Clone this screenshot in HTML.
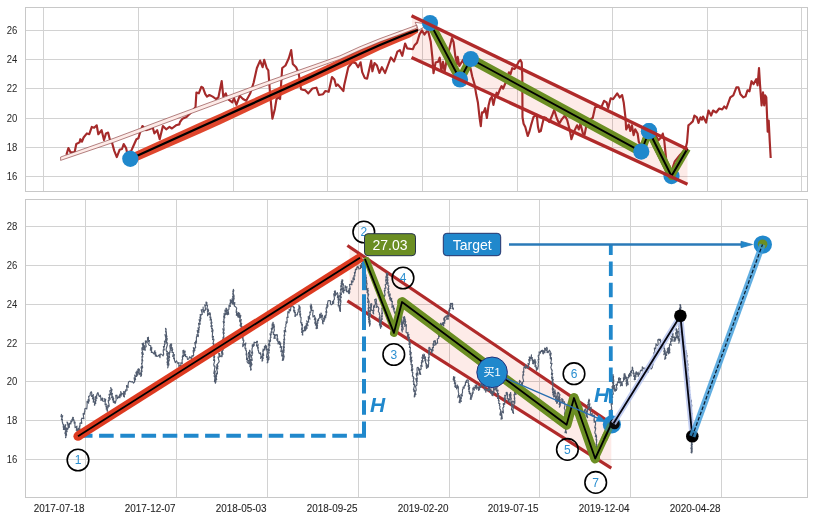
<!DOCTYPE html>
<html><head><meta charset="utf-8"><title>chart</title>
<style>html,body{margin:0;padding:0;background:#fff;}svg{display:block;}</style>
</head><body>
<svg width="813" height="520" viewBox="0 0 813 520">
<rect x="0" y="0" width="813" height="520" fill="#ffffff"/>
<g stroke="#d2d2d2" stroke-width="1" fill="none" shape-rendering="crispEdges">
<line x1="43.50" y1="7.5" x2="43.50" y2="191.5"/>
<line x1="138.50" y1="7.5" x2="138.50" y2="191.5"/>
<line x1="233.50" y1="7.5" x2="233.50" y2="191.5"/>
<line x1="327.50" y1="7.5" x2="327.50" y2="191.5"/>
<line x1="422.50" y1="7.5" x2="422.50" y2="191.5"/>
<line x1="517.50" y1="7.5" x2="517.50" y2="191.5"/>
<line x1="612.50" y1="7.5" x2="612.50" y2="191.5"/>
<line x1="707.50" y1="7.5" x2="707.50" y2="191.5"/>
<line x1="801.50" y1="7.5" x2="801.50" y2="191.5"/>
<line x1="25.5" y1="30.50" x2="807.5" y2="30.50"/>
<line x1="25.5" y1="59.50" x2="807.5" y2="59.50"/>
<line x1="25.5" y1="88.50" x2="807.5" y2="88.50"/>
<line x1="25.5" y1="118.50" x2="807.5" y2="118.50"/>
<line x1="25.5" y1="147.50" x2="807.5" y2="147.50"/>
<line x1="25.5" y1="176.50" x2="807.5" y2="176.50"/>
<line x1="85.50" y1="199.5" x2="85.50" y2="497.5"/>
<line x1="176.50" y1="199.5" x2="176.50" y2="497.5"/>
<line x1="267.50" y1="199.5" x2="267.50" y2="497.5"/>
<line x1="358.50" y1="199.5" x2="358.50" y2="497.5"/>
<line x1="449.50" y1="199.5" x2="449.50" y2="497.5"/>
<line x1="539.50" y1="199.5" x2="539.50" y2="497.5"/>
<line x1="630.50" y1="199.5" x2="630.50" y2="497.5"/>
<line x1="721.50" y1="199.5" x2="721.50" y2="497.5"/>
<line x1="25.5" y1="226.50" x2="807.5" y2="226.50"/>
<line x1="25.5" y1="265.50" x2="807.5" y2="265.50"/>
<line x1="25.5" y1="304.50" x2="807.5" y2="304.50"/>
<line x1="25.5" y1="343.50" x2="807.5" y2="343.50"/>
<line x1="25.5" y1="381.50" x2="807.5" y2="381.50"/>
<line x1="25.5" y1="420.50" x2="807.5" y2="420.50"/>
<line x1="25.5" y1="459.50" x2="807.5" y2="459.50"/>
<rect x="25.5" y="7.5" width="782.0" height="184.0" stroke="#c8c8c8"/>
<rect x="25.5" y="199.5" width="782.0" height="298.0" stroke="#c8c8c8"/>
</g>
<g font-family="Liberation Sans, Arial, sans-serif" fill="#262626" text-anchor="end">
<text transform="translate(17.30,33.90) scale(0.89,1)" font-size="10.7px" >26</text>
<text transform="translate(17.30,62.90) scale(0.89,1)" font-size="10.7px" >24</text>
<text transform="translate(17.30,91.90) scale(0.89,1)" font-size="10.7px" >22</text>
<text transform="translate(17.30,121.90) scale(0.89,1)" font-size="10.7px" >20</text>
<text transform="translate(17.30,150.90) scale(0.89,1)" font-size="10.7px" >18</text>
<text transform="translate(17.30,179.90) scale(0.89,1)" font-size="10.7px" >16</text>
<text transform="translate(17.30,229.90) scale(0.89,1)" font-size="10.7px" >28</text>
<text transform="translate(17.30,268.90) scale(0.89,1)" font-size="10.7px" >26</text>
<text transform="translate(17.30,307.90) scale(0.89,1)" font-size="10.7px" >24</text>
<text transform="translate(17.30,346.90) scale(0.89,1)" font-size="10.7px" >22</text>
<text transform="translate(17.30,384.90) scale(0.89,1)" font-size="10.7px" >20</text>
<text transform="translate(17.30,423.90) scale(0.89,1)" font-size="10.7px" >18</text>
<text transform="translate(17.30,462.90) scale(0.89,1)" font-size="10.7px" >16</text>
<text transform="translate(84.50,511.50) scale(0.945,1)" font-size="10.5px" stroke="#262626" stroke-width="0.1">2017-07-18</text>
<text transform="translate(175.50,511.50) scale(0.945,1)" font-size="10.5px" stroke="#262626" stroke-width="0.1">2017-12-07</text>
<text transform="translate(266.50,511.50) scale(0.945,1)" font-size="10.5px" stroke="#262626" stroke-width="0.1">2018-05-03</text>
<text transform="translate(357.50,511.50) scale(0.945,1)" font-size="10.5px" stroke="#262626" stroke-width="0.1">2018-09-25</text>
<text transform="translate(448.50,511.50) scale(0.945,1)" font-size="10.5px" stroke="#262626" stroke-width="0.1">2019-02-20</text>
<text transform="translate(538.50,511.50) scale(0.945,1)" font-size="10.5px" stroke="#262626" stroke-width="0.1">2019-07-15</text>
<text transform="translate(629.50,511.50) scale(0.945,1)" font-size="10.5px" stroke="#262626" stroke-width="0.1">2019-12-04</text>
<text transform="translate(720.50,511.50) scale(0.945,1)" font-size="10.5px" stroke="#262626" stroke-width="0.1">2020-04-28</text>
</g>
<polygon points="412,16 687.5,149.2 687.5,184.3 412,57.5" fill="#e8442a" fill-opacity="0.105"/>
<polyline points="66.4,154.7 68.4,148.1 70.5,152.2 74.6,152.2 76.3,144.0 79.5,142.4 80.3,139.2 82.0,141.6 83.6,137.5 86.9,133.4 89.3,134.2 91.8,126.9 94.2,127.7 96.7,125.3 98.3,134.2 101.6,130.2 104.0,140.0 106.0,133.4 108.1,132.6 109.8,139.2 112.2,143.2 114.2,150.6 116.8,157.1 119.6,149.8 122.0,149.0 123.7,144.0 126.1,148.1 127.0,152.2 131.0,151.4 133.5,145.7 136.4,139.2 138.4,138.3 140.0,132.6 142.5,126.0 145.8,130.2 149.0,129.3 152.8,127.7 154.4,133.4 157.2,130.2 159.7,139.2 162.9,126.0 166.2,129.3 169.5,126.9 171.9,128.5 176.0,125.3 179.3,124.4 180.0,122.0 182.5,118.7 186.5,117.0 189.8,113.8 195.5,107.2 196.4,92.5 198.8,93.3 201.3,86.8 202.9,87.6 205.3,94.2 207.0,96.6 209.4,95.0 212.7,96.6 216.0,99.0 218.4,97.4 221.7,81.0 223.3,96.6 225.8,93.3 226.6,95.8 229.0,99.9 232.3,102.3 234.0,98.2 236.4,104.8 239.7,95.8 243.0,99.0 246.2,100.7 250.3,93.3 253.6,82.7 256.9,68.0 260.1,60.6 262.6,67.2 264.2,59.8 266.7,68.0 268.3,70.4 270.0,92.5 272.4,118.7 274.9,108.9 276.5,99.0 278.9,97.4 280.1,99.0 282.2,68.0 285.5,65.5 288.8,58.2 291.2,50.0 292.8,63.9 296.1,67.2 298.6,72.9 301.0,89.2 303.5,90.0 305.0,90.1 308.3,93.4 312.4,88.5 316.4,87.7 318.9,95.0 323.0,94.2 325.4,91.0 328.7,91.8 332.0,77.0 334.4,79.5 336.1,86.0 337.7,84.4 343.4,91.0 344.2,85.2 348.3,67.2 352.4,62.3 355.7,63.1 358.1,67.2 360.6,62.3 362.2,72.1 364.7,77.9 367.1,78.7 371.2,60.7 372.4,71.3 374.5,63.1 377.0,65.6 379.4,73.0 381.9,67.2 385.1,73.0 388.4,64.0 390.9,57.4 394.1,61.5 397.4,51.7 399.9,50.1 402.3,55.8 405.1,43.5 407.2,48.4 412.9,49.2 414.6,45.2 417.0,42.7 419.5,34.5 421.9,30.4 424.4,34.5 426.8,31.3 428.3,31.5 430.7,41.4 432.4,57.7 433.5,73.2 435.6,62.6 438.1,61.8 439.7,57.7 441.4,70.8 443.0,61.8 444.6,71.6 447.1,57.7 449.5,47.9 452.0,38.1 453.6,42.2 455.3,56.1 456.9,64.2 457.7,56.9 459.3,65.9 463.0,60.0 466.0,70.0 469.2,69.2 470.5,68.2 472.2,76.3 474.6,84.5 476.2,94.3 477.9,102.5 479.5,117.2 480.8,126.2 482.0,112.3 483.6,112.3 485.2,108.2 486.9,118.0 488.5,105.8 490.1,99.2 491.8,96.8 493.4,104.9 495.0,97.6 496.7,92.7 497.8,95.1 499.9,89.4 501.6,86.1 503.2,88.6 504.8,84.5 507.3,79.6 508.9,72.3 510.6,73.9 512.2,68.2 514.6,69.0 516.3,66.5 518.7,61.6 520.4,60.0 521.7,62.5 522.3,76.3 522.5,117.2 523.6,123.7 525.3,127.0 527.7,136.0 529.3,131.9 531.0,125.4 533.4,117.2 536.7,114.7 538.0,127.0 539.2,131.9 540.8,131.1 542.4,123.7 544.1,117.2 546.1,118.0 549.3,122.0 551.8,116.3 554.2,109.8 556.7,118.0 559.2,123.7 561.6,119.6 564.9,115.5 567.3,120.4 569.8,130.2 571.4,139.2 573.9,131.9 577.1,125.3 578.8,129.4 580.4,123.7 582.9,133.5 584.5,135.1 586.1,127.0 587.8,120.4 592.7,118.0 595.1,107.3 598.4,106.5 600.9,108.1 604.1,100.8 606.6,102.4 608.2,108.1 610.7,98.3 613.1,99.2 617.2,93.4 619.7,97.5 622.1,95.1 623.7,102.4 625.4,117.1 626.2,129.4 628.7,124.5 630.3,131.0 631.9,125.3 633.6,135.1 635.2,129.4 637.6,133.5 638.8,141.8 641.0,146.0 644.0,138.0 647.0,142.0 650.0,134.0 653.0,139.0 656.0,136.0 658.4,140.2 660.9,137.7 662.8,133.6 664.2,140.2 665.8,155.7 667.4,170.4 669.0,176.0 671.0,178.0 673.1,166.3 674.8,161.4 680.0,155.0 685.4,149.2 687.0,142.6 688.4,125.4 690.3,123.8 692.8,121.4 694.4,115.6 696.9,117.3 698.5,123.0 700.5,117.3 702.0,119.6 703.0,116.6 706.1,122.6 708.5,110.5 711.1,115.6 713.1,110.5 716.2,112.5 719.2,108.5 722.2,109.5 724.2,106.5 726.3,108.5 730.3,97.4 733.3,95.4 736.4,87.3 738.4,87.3 740.4,94.3 743.4,97.4 745.5,96.4 747.5,90.3 749.5,91.3 751.5,81.2 753.5,84.2 756.2,79.2 757.6,85.3 759.0,68.1 760.0,84.2 761.6,105.5 763.0,92.3 764.2,105.5 765.1,95.4 766.3,97.4 767.7,131.7 768.7,120.6 769.7,140.8 770.7,158.0" fill="none" stroke="#a52a2a" stroke-width="2.15" stroke-linejoin="round"/>
<polygon points="130.0,154.3 138.8,150.3 200.0,122.6 220.0,113.7 245.0,102.3 289.0,82.6 310.0,73.0 340.0,58.9 360.0,50.0 380.0,41.6 400.0,34.2 410.0,30.6 418.0,28.4 418.0,32.4 410.0,37.4 400.0,41.4 380.0,50.0 360.0,59.5 340.0,68.5 310.0,82.4 289.0,91.9 245.0,112.7 220.0,124.5 200.0,133.5 138.8,160.3 130.0,164.0" fill="#dd3a20" fill-opacity="0.94"/>
<polyline points="130.0,159.0 138.8,155.0 200.0,127.3 220.0,118.3 245.0,106.9 289.0,87.0 310.0,77.4 340.0,63.3 360.0,54.0 380.0,45.0 400.0,36.8 410.0,32.8 418.0,30.0" fill="none" stroke="#000" stroke-width="2.3" stroke-linejoin="round"/>
<polygon points="415.2,22.3 428.5,24.2 418.5,30.3" fill="#fff" stroke="#8a2a2a" stroke-width="0.6"/>
<polygon points="60.6,157.0 114.0,138.2 173.1,116.0 250.0,87.6 285.0,75.1 340.0,55.8 360.0,46.7 380.0,38.6 400.0,31.3 416.9,25.1 416.9,28.1 400.0,34.5 380.0,41.8 360.0,50.1 340.0,59.2 285.0,78.7 250.0,91.6 173.1,120.2 114.0,142.2 60.6,160.4" fill="#fdebe8" stroke="#803030" stroke-width="0.6" stroke-linejoin="round"/>
<polyline points="430.0,23.0 460.0,79.5 470.8,59.0" fill="none" stroke="#6b8e23" stroke-width="8.8" stroke-linejoin="round" stroke-linecap="round"/>
<polyline points="470.8,59.0 641.3,151.6" fill="none" stroke="#6b8e23" stroke-width="9.8" stroke-linejoin="round" stroke-linecap="round"/>
<polyline points="641.3,151.6 649.0,131.2 671.5,176.1" fill="none" stroke="#6b8e23" stroke-width="7.6" stroke-linejoin="round" stroke-linecap="round"/>
<polyline points="430.0,23.0 460.0,79.5 470.8,59.0 641.3,151.6 649.0,131.2 671.5,176.1" fill="none" stroke="#000" stroke-width="1.8" stroke-linejoin="round"/>
<circle cx="130.3" cy="158.8" r="8.1" fill="#2088cc"/>
<circle cx="430" cy="23" r="8.1" fill="#2088cc"/>
<circle cx="460" cy="79.5" r="8.1" fill="#2088cc"/>
<circle cx="470.8" cy="59" r="8.1" fill="#2088cc"/>
<circle cx="641.3" cy="151.6" r="8.1" fill="#2088cc"/>
<circle cx="649" cy="131.2" r="8.1" fill="#2088cc"/>
<circle cx="671.5" cy="176.1" r="8.1" fill="#2088cc"/>
<polyline points="649.0,131.2 671.5,176.1" fill="none" stroke="#6b8e23" stroke-width="7.6" stroke-linecap="round"/>
<polyline points="671.5,176.1 687.4,148.8" fill="none" stroke="#6b8e23" stroke-width="7" stroke-linecap="butt"/>
<polyline points="649.0,131.2 671.5,176.1 687.4,148.8" fill="none" stroke="#000" stroke-width="2" stroke-linejoin="round"/>
<circle cx="649" cy="131.2" r="8.1" fill="#2088cc"/>
<line x1="411.5" y1="15.8" x2="687.5" y2="149.2" stroke="#b02a2a" stroke-width="3.3"/>
<line x1="411.5" y1="57.5" x2="687.5" y2="184.3" stroke="#b02a2a" stroke-width="3.3"/>
<polygon points="349.6,247 611.3,423.5 611.3,468 349.6,302.2" fill="#e8442a" fill-opacity="0.105"/>
<line x1="347.4" y1="245.5" x2="611.5" y2="423.6" stroke="#b02a2a" stroke-width="3.15"/>
<line x1="347.4" y1="300.8" x2="611.3" y2="468.2" stroke="#b02a2a" stroke-width="3.15"/>
<polyline points="61.6,414.0 61.0,416.5 61.4,416.9 62.7,415.7 61.4,419.7 62.4,419.3 62.2,421.8 62.7,422.9 62.7,424.0 63.5,424.5 63.2,426.9 64.0,426.6 63.4,429.4 63.8,429.5 63.3,427.1 64.6,428.0 64.9,426.3 64.9,425.0 65.8,424.7 64.6,429.6 66.0,427.9 65.9,429.6 64.9,433.4 66.1,431.5 65.4,435.1 66.5,433.9 65.5,437.7 66.0,437.2 65.4,433.8 66.6,435.1 65.9,431.1 67.1,431.7 66.5,428.0 67.6,429.4 67.9,429.1 68.1,427.3 68.1,425.7 67.0,422.0 67.8,422.9 67.8,425.3 69.1,423.9 68.7,427.6 69.4,427.3 69.3,425.1 69.8,423.2 70.9,424.0 70.8,420.9 71.6,422.0 72.0,421.2 71.9,419.3 72.6,419.0 72.7,417.3 73.4,417.6 72.9,420.2 73.7,419.5 74.1,420.6 74.2,423.2 75.1,422.1 74.9,425.0 75.1,427.7 77.0,426.2 76.3,430.4 77.1,429.5 77.9,429.1 76.9,433.5 77.2,434.4 78.2,433.9 78.1,431.4 79.4,433.5 78.2,428.1 79.8,430.9 79.9,428.8 79.4,426.0 80.1,426.1 79.9,423.2 80.4,422.9 81.8,423.4 81.3,419.6 82.0,418.1 82.6,418.4 83.9,418.8 83.1,413.6 84.5,414.1 84.3,412.0 84.8,411.8 84.8,408.9 85.4,408.3 86.8,409.0 87.0,406.5 87.1,405.2 87.1,404.1 87.0,401.2 88.6,403.2 88.1,399.5 89.3,401.1 88.6,396.4 89.3,396.3 90.2,395.2 90.2,393.5 90.5,392.7 91.1,391.8 91.5,391.9 91.8,393.9 91.6,396.5 92.4,396.2 93.5,394.7 92.4,398.9 94.0,397.1 93.7,398.5 93.2,402.2 93.9,401.7 94.9,401.7 94.4,405.1 94.8,405.2 94.8,403.8 95.8,403.5 94.9,399.1 96.2,400.8 95.4,396.5 96.9,398.5 96.4,395.2 97.0,395.3 97.0,394.1 97.9,392.5 99.1,396.3 100.0,396.6 100.3,395.2 100.8,397.5 101.0,400.4 102.4,398.1 103.0,398.4 102.5,400.7 103.3,401.2 104.7,401.2 104.7,398.5 104.7,400.6 105.7,399.3 105.2,402.2 105.1,404.7 106.4,404.0 105.9,406.9 106.8,406.6 106.2,409.2 107.0,408.4 107.3,409.3 107.0,410.7 107.6,411.2 107.1,407.5 108.1,407.8 107.8,405.2 109.1,406.4 109.1,404.9 108.3,401.6 108.3,400.3 109.2,400.7 108.7,397.5 110.2,399.2 109.0,394.2 109.6,394.1 110.5,394.9 110.7,394.4 109.7,390.7 110.5,390.7 111.1,390.0 110.7,387.5 111.3,388.8 112.0,389.5 110.9,394.0 111.2,394.9 112.4,393.3 111.6,397.8 112.5,396.3 113.0,396.9 112.4,400.0 113.7,398.2 113.2,402.0 113.6,402.4 114.7,401.2 114.3,403.0 115.5,403.2 115.7,401.4 116.2,400.0 115.9,397.2 115.7,395.3 116.9,395.2 117.5,398.7 119.3,395.7 119.1,397.4 120.0,397.7 119.8,394.2 121.2,396.1 120.7,391.6 121.3,393.0 121.4,394.5 123.2,393.1 123.5,396.3 124.5,396.9 123.6,391.6 125.2,394.2 124.9,391.4 125.8,391.6 125.7,389.7 127.1,390.3 126.5,385.5 128.2,387.4 128.0,385.3 128.5,382.0 129.8,381.2 131.3,382.0 132.4,381.5 133.5,383.1 134.1,382.4 134.7,381.8 134.1,377.8 135.6,379.8 134.7,375.1 135.7,376.4 136.7,376.4 135.9,372.2 137.5,375.2 136.8,371.1 138.1,373.0 137.8,369.2 138.9,370.4 138.6,368.7 139.4,369.5 139.0,373.7 139.1,374.7 140.5,372.8 140.8,374.7 140.8,376.4 141.4,375.6 141.6,374.3 141.2,372.0 141.1,370.6 142.1,371.6 141.0,367.0 142.1,368.7 141.6,366.3 142.7,367.3 141.5,363.3 142.3,363.2 142.0,361.0 141.8,359.6 142.8,360.9 142.1,358.3 141.9,356.5 142.8,356.9 141.7,352.5 143.3,354.4 142.1,350.4 141.9,348.8 141.9,347.8 143.2,350.0 142.5,347.1 143.5,347.6 142.1,343.5 143.0,344.6 142.8,343.3 143.8,343.1 143.0,347.8 144.7,345.7 144.0,349.1 144.5,349.9 145.3,350.2 144.9,347.1 145.6,347.1 146.2,346.7 145.4,342.2 145.4,340.8 147.3,342.8 147.0,340.8 147.4,340.0 147.7,339.6 147.4,337.7 148.4,337.2 148.5,338.2 148.4,341.5 149.5,340.5 148.6,344.6 149.4,345.4 150.1,345.5 150.9,345.9 150.3,350.3 151.8,347.6 151.3,352.4 152.3,352.1 153.8,353.8 154.5,351.8 154.5,351.0 155.1,350.8 154.4,354.2 155.8,352.6 155.3,356.1 156.6,355.0 156.7,356.5 157.8,356.3 159.1,354.8 160.0,357.6 160.2,354.1 161.5,354.2 163.1,355.8 163.7,354.1 163.3,352.1 163.2,349.7 164.3,350.0 163.4,346.5 164.5,346.9 164.4,344.3 165.1,344.1 164.4,341.1 165.2,342.1 165.5,340.8 165.8,340.4 165.5,339.1 166.3,339.8 165.0,334.6 166.3,336.0 166.5,334.7 166.3,332.1 165.5,328.3 166.2,329.2 165.5,332.0 166.1,332.1 166.1,333.6 166.5,334.2 165.7,337.2 167.0,336.2 166.0,339.8 167.3,338.6 166.6,341.3 166.3,343.1 167.2,342.6 167.3,343.3 167.3,345.0 166.1,349.1 166.2,350.5 166.6,351.4 167.4,351.3 166.7,354.2 167.5,353.4 166.9,355.5 167.8,355.4 167.0,359.2 168.0,358.7 167.0,362.7 168.3,361.1 167.3,364.2 167.4,365.0 168.4,364.2 167.7,367.9 168.1,366.7 167.6,363.2 168.9,365.1 168.8,363.7 168.2,360.5 169.0,361.1 169.3,359.9 168.4,356.6 169.3,357.6 169.7,357.3 168.3,352.7 169.6,354.2 169.3,352.4 170.0,352.5 170.0,350.7 170.4,350.1 169.8,345.8 170.4,344.6 171.6,345.8 171.1,343.5 170.7,346.0 171.7,344.7 170.9,348.6 172.2,347.5 171.6,350.6 172.7,349.1 172.0,352.4 172.8,352.4 173.6,352.7 172.7,356.4 174.4,354.7 173.6,358.7 174.4,357.9 174.4,360.1 175.3,362.6 176.5,360.8 177.2,362.3 177.9,363.6 179.0,362.5 178.8,366.5 179.9,365.6 181.0,365.6 180.8,362.8 182.3,363.6 182.1,361.2 182.2,359.2 182.7,359.1 182.3,356.9 182.6,355.7 183.5,356.6 183.0,352.7 182.9,350.5 183.9,350.2 183.7,352.8 185.2,351.2 184.4,355.6 185.6,354.5 185.5,356.5 186.1,356.8 187.0,356.5 187.5,359.5 188.7,359.0 189.7,356.7 191.7,359.2 191.8,355.9 192.1,356.8 192.7,355.6 193.4,355.9 193.7,355.0 193.1,350.5 194.2,352.0 193.3,347.5 194.9,350.5 194.3,348.0 195.1,348.2 195.7,347.4 194.7,342.6 196.0,343.7 195.5,341.0 196.5,342.4 196.5,341.3 196.4,339.5 196.4,337.1 197.0,336.1 196.9,334.6 198.2,336.6 198.4,335.7 197.2,330.5 197.7,330.7 198.9,332.4 198.0,327.9 199.2,329.9 198.7,328.1 199.4,327.8 198.5,323.2 199.9,324.4 200.3,324.1 199.1,319.6 200.6,321.0 199.8,317.0 201.0,318.8 200.1,314.5 200.9,315.9 201.0,314.3 201.6,314.7 202.4,314.3 201.2,309.8 202.2,309.7 203.3,310.2 203.1,307.1 203.2,308.5 203.0,311.9 204.2,310.4 204.2,312.6 204.3,310.2 205.1,310.5 205.6,309.3 204.7,304.9 205.3,306.0 206.2,305.1 206.0,302.1 206.9,302.6 206.8,305.1 207.6,305.5 206.9,308.7 207.2,309.8 208.2,309.0 207.4,312.0 208.6,310.3 207.5,314.0 207.6,315.7 208.2,314.8 208.4,313.3 209.6,314.5 209.7,312.6 210.1,312.9 210.4,314.2 209.9,317.8 210.9,317.1 210.1,320.1 211.4,319.1 211.3,321.4 210.9,323.4 211.9,322.3 210.9,326.6 212.2,325.7 211.5,328.6 212.5,328.5 211.7,331.7 213.1,330.0 212.6,332.5 212.4,335.0 212.3,337.3 213.5,336.4 212.5,339.7 213.7,339.0 213.9,339.8 212.9,343.7 213.5,343.3 213.8,344.0 212.8,347.3 213.5,348.0 214.3,347.6 214.0,349.9 213.0,353.3 214.1,352.0 213.1,355.6 214.6,354.0 213.7,357.6 214.7,356.7 213.5,360.5 214.4,359.4 214.7,360.6 213.7,364.9 214.0,365.3 214.1,366.2 215.0,366.1 214.4,370.1 213.8,373.4 215.3,371.1 214.2,375.8 214.4,376.9 215.1,376.5 214.7,379.4 214.4,381.8 215.9,380.6 215.3,383.3 215.6,382.3 216.0,381.8 215.3,378.2 216.7,379.7 215.5,375.1 216.6,376.7 216.4,374.5 216.3,373.2 217.4,374.0 217.4,372.0 216.5,368.6 216.4,367.0 217.9,368.9 216.7,364.9 217.9,366.7 217.4,364.3 217.9,363.4 218.5,362.7 219.2,361.7 218.0,357.1 218.4,357.1 219.3,357.0 218.7,353.3 219.7,353.5 219.9,356.8 221.8,355.5 221.9,356.8 222.2,355.9 221.9,354.1 221.4,351.6 223.0,354.3 222.2,350.3 222.6,349.6 223.2,350.1 222.3,346.6 223.0,346.8 222.5,343.9 223.2,343.7 223.4,342.8 223.0,341.3 222.5,339.2 223.5,339.6 223.0,337.2 223.9,337.6 223.8,335.6 223.0,332.1 224.2,333.4 222.8,328.9 224.1,330.4 224.0,328.5 223.6,326.0 224.1,325.3 223.2,321.3 224.4,322.6 223.7,319.4 224.1,319.2 223.7,316.1 224.8,317.8 224.0,313.6 225.1,315.1 225.3,313.6 224.9,310.0 226.3,311.0 225.9,308.2 226.7,308.2 226.0,311.5 227.4,309.9 226.1,314.5 227.7,312.6 227.4,314.8 227.8,314.5 228.7,314.2 228.0,310.0 228.8,309.8 229.0,308.2 229.0,305.3 230.4,306.5 229.9,303.1 230.7,303.3 230.2,299.8 231.2,300.4 231.6,302.9 232.4,302.5 232.5,303.7 233.3,304.6 232.7,302.4 232.0,298.9 233.2,301.0 232.7,298.8 233.2,299.0 232.6,296.6 233.3,296.2 232.7,293.5 233.4,294.1 233.0,291.3 233.5,290.7 233.4,289.4 232.8,291.9 233.8,290.3 233.1,293.4 233.4,294.3 233.9,295.0 234.1,296.4 233.5,299.0 234.2,298.1 233.5,300.9 233.5,302.6 233.7,303.5 234.9,302.5 234.3,306.0 234.8,306.3 235.8,307.0 236.7,308.2 236.3,310.4 236.2,312.5 236.9,311.6 236.3,315.3 237.6,313.3 237.2,315.6 238.1,314.7 237.8,317.0 238.7,317.2 238.5,312.5 239.6,313.7 239.9,313.9 239.3,317.8 240.8,315.5 239.6,320.8 239.9,321.9 241.3,319.5 240.7,322.5 240.1,325.8 241.7,323.2 240.9,326.9 242.1,326.4 241.4,329.1 242.1,329.8 241.6,332.5 242.2,332.5 241.9,335.4 243.1,334.7 242.3,338.1 243.0,337.4 243.1,338.2 242.8,340.3 243.7,340.0 243.8,340.8 242.8,344.5 242.7,346.6 243.6,345.7 244.2,344.2 245.4,345.2 245.1,343.5 245.9,343.0 244.9,347.7 245.2,348.9 245.9,348.1 245.8,350.6 246.4,350.5 246.5,351.5 246.1,354.9 246.9,353.8 246.9,354.9 246.7,356.8 246.5,359.5 247.7,358.2 247.1,361.7 247.5,362.6 248.4,363.4 249.1,363.9 248.5,360.5 249.3,360.9 249.4,359.1 248.4,356.0 249.3,356.2 248.5,353.4 248.6,352.3 249.5,353.1 249.6,352.1 249.5,350.2 250.1,350.8 250.1,351.8 249.0,355.6 250.3,354.2 250.1,356.7 249.6,359.9 250.6,359.6 249.7,363.1 250.5,363.0 249.8,366.6 250.2,366.9 250.7,367.7 250.6,370.1 251.3,369.8 250.4,365.9 250.3,364.7 251.4,366.0 250.4,362.1 252.0,364.7 250.5,360.0 250.8,359.6 252.0,360.4 252.3,360.3 251.3,355.8 251.6,355.6 252.3,355.2 251.5,352.1 252.7,353.1 252.0,350.2 252.0,348.6 252.4,348.0 252.2,344.9 253.3,346.5 253.2,344.1 254.2,345.6 254.1,342.1 254.6,342.4 256.1,342.5 256.8,341.3 257.5,341.3 256.5,345.2 256.9,346.3 258.2,344.6 257.5,348.1 258.3,347.4 258.0,350.2 258.4,350.2 258.8,352.6 259.3,353.6 260.6,352.8 260.6,354.6 261.1,354.9 260.6,358.5 262.1,356.4 262.4,357.9 262.1,360.1 262.1,361.2 262.7,360.5 262.4,357.6 263.2,358.4 262.4,353.8 263.7,355.4 262.7,350.8 263.4,351.2 263.0,349.0 263.9,350.2 264.5,350.0 264.4,346.3 265.7,348.2 265.4,345.1 266.1,345.7 265.7,347.7 266.6,346.5 266.1,349.9 267.1,349.2 267.0,351.2 267.4,351.1 266.8,354.8 266.6,357.4 267.5,356.5 267.1,360.0 267.9,359.8 267.2,362.9 267.9,362.3 267.7,360.3 268.2,360.3 267.6,357.5 268.9,359.6 268.7,358.3 269.1,357.8 267.8,352.9 268.5,352.9 269.2,352.9 268.1,349.1 269.4,350.3 268.8,348.1 269.2,347.6 268.4,343.8 269.9,345.7 269.4,343.5 268.9,340.1 270.3,341.7 270.6,340.5 270.2,337.8 271.0,337.5 270.0,333.9 271.2,334.8 271.0,331.9 272.1,332.4 271.7,330.3 271.3,328.3 272.5,329.2 272.1,325.5 272.2,323.9 273.5,325.7 272.9,322.3 273.2,322.5 272.8,325.5 274.0,324.3 273.2,327.8 274.4,326.0 274.1,328.8 274.4,330.0 273.2,333.9 273.7,334.7 274.8,334.3 274.0,338.4 274.5,338.0 275.2,338.5 274.6,334.3 276.0,335.7 276.1,334.7 277.1,334.5 277.5,335.8 276.8,340.1 277.8,338.7 277.7,341.4 278.3,341.3 278.0,344.0 279.7,341.4 279.4,344.5 280.7,342.9 280.5,345.7 280.1,347.7 281.3,346.6 281.8,346.9 280.8,351.6 282.2,350.7 282.0,352.4 281.7,355.9 283.0,355.1 283.1,356.4 282.3,360.5 283.8,357.9 283.4,360.1 283.1,358.6 282.7,356.0 282.9,354.9 284.2,357.0 283.3,353.3 282.9,350.7 284.1,352.2 283.1,349.0 284.2,350.4 283.3,346.4 284.4,347.6 283.6,343.8 284.3,344.5 283.5,341.7 284.5,342.9 283.7,339.2 284.7,339.9 284.5,338.7 284.0,335.1 284.9,335.5 284.2,331.3 284.2,330.3 285.8,331.9 285.0,327.7 285.5,327.3 285.9,326.6 285.8,324.0 286.4,323.7 286.0,321.8 287.1,322.6 287.1,320.2 286.9,317.2 288.1,317.5 287.7,315.2 287.9,311.6 289.1,313.0 289.2,309.3 290.5,310.9 290.6,309.6 290.8,307.5 291.8,306.0 293.3,306.3 293.4,307.6 294.4,307.3 293.5,311.1 294.8,310.3 294.3,312.8 295.4,312.3 294.9,316.4 295.5,316.3 295.8,314.7 297.3,314.9 297.5,312.8 297.7,313.0 298.3,311.6 298.2,309.2 299.2,309.0 298.9,305.3 299.5,306.3 298.8,308.9 300.1,306.9 300.0,309.5 299.8,311.0 299.6,312.4 300.4,311.2 299.6,315.0 300.7,313.8 300.2,316.8 300.5,317.1 301.1,317.2 301.0,319.6 300.7,322.4 301.2,323.3 301.9,322.7 301.4,325.1 302.5,324.4 302.4,325.7 301.5,329.4 302.5,327.9 301.6,332.4 303.2,330.6 302.2,334.8 302.8,335.1 302.4,332.1 302.8,330.5 303.2,330.3 304.2,330.9 304.7,330.3 304.3,327.3 305.6,325.8 305.3,330.6 306.1,329.5 305.7,326.5 307.1,328.3 306.2,323.6 308.0,325.7 306.7,320.8 307.6,321.8 308.7,322.2 308.5,320.3 308.2,316.6 309.9,319.2 309.3,315.8 309.8,315.2 310.2,314.4 309.7,312.0 310.7,312.3 310.9,311.4 311.0,309.9 310.7,308.3 310.2,305.7 311.0,305.7 311.7,306.3 311.0,304.1 311.4,305.3 310.7,308.7 311.9,307.3 311.3,310.5 312.4,310.2 313.2,310.4 312.7,314.1 313.0,317.0 314.5,315.5 314.9,317.4 314.3,319.8 315.6,318.0 315.8,319.2 314.7,323.1 316.0,321.3 315.4,325.1 316.5,323.8 316.5,325.9 316.1,328.7 316.5,328.4 317.6,328.2 316.4,324.2 317.6,326.0 316.9,323.0 317.9,323.1 317.4,319.9 318.5,320.6 318.7,318.5 319.7,317.9 319.6,314.2 321.0,315.8 320.9,313.0 321.3,313.4 320.7,317.7 322.5,315.2 321.9,319.5 322.6,320.1 322.5,323.1 323.1,324.0 322.8,320.9 324.1,321.4 323.6,318.1 324.7,319.8 324.4,316.1 325.8,317.8 325.3,315.2 326.0,315.8 326.3,313.9 325.8,311.5 326.8,312.3 326.1,308.7 326.5,307.0 327.3,307.9 326.9,304.6 328.0,306.2 327.5,304.1 328.0,300.8 329.2,300.5 330.4,300.8 330.4,303.7 331.3,304.8 332.6,304.1 332.3,301.4 333.7,303.3 333.6,300.2 334.3,299.6 334.4,298.2 333.7,293.8 335.3,295.8 334.3,291.2 335.3,290.9 335.5,293.4 336.0,294.8 337.3,292.6 337.9,294.2 337.4,297.7 338.8,295.9 338.0,300.0 339.3,299.0 338.1,302.8 339.1,301.8 338.3,304.7 338.2,305.9 339.3,305.4 339.2,307.8 339.6,308.5 339.7,310.7 340.4,311.5 340.4,309.3 340.4,308.4 340.2,306.0 340.5,305.4 340.5,303.6 340.9,302.6 339.8,299.1 341.0,301.2 340.0,297.7 339.8,295.2 341.3,297.7 340.0,292.9 341.5,294.5 340.8,290.9 340.5,289.1 341.4,290.0 341.8,290.0 340.6,285.9 341.7,286.4 341.1,283.1 341.7,283.6 341.4,281.3 342.1,281.0 341.9,279.8 342.8,280.1 342.2,283.7 342.2,284.9 343.2,283.7 343.5,284.9 342.3,289.2 343.7,287.9 342.5,291.9 343.3,291.8 343.7,293.1 343.7,290.0 345.1,290.4 345.1,287.5 345.1,285.6 345.9,287.5 347.0,286.7 346.4,291.3 347.3,292.0 348.5,290.1 348.7,291.5 348.5,293.1 349.2,293.7 349.4,293.1 349.8,292.0 349.2,288.4 350.3,289.2 349.5,284.6 350.3,284.2 351.9,284.8 351.4,280.9 352.4,282.2 353.1,282.0 353.0,279.8 353.0,277.9 354.4,279.7 353.8,275.8 354.9,275.9 354.4,272.4 355.2,273.2 355.4,271.4 355.3,269.9 355.7,269.0 356.7,269.7 356.8,267.2 357.7,267.7 357.4,266.5 358.4,267.0 359.0,269.0 359.6,268.7 360.6,268.5 360.3,264.8 361.2,265.9 361.9,265.0 361.4,263.2 362.5,263.0 361.4,267.4 362.2,267.2 362.8,267.4 363.1,267.8 362.7,270.5 362.5,273.1 362.9,273.2 363.3,272.7 362.8,269.2 363.7,270.0 363.5,268.0 364.0,267.8 363.7,265.9 364.8,267.4 364.5,264.3 365.2,264.4 364.6,268.0 365.0,267.7 364.3,271.3 364.4,272.0 365.5,270.8 364.9,273.8 365.3,274.6 366.0,275.0 365.1,278.6 366.4,277.2 366.2,279.8 365.6,282.5 366.7,280.8 366.3,283.1 367.1,283.0 366.6,286.2 366.6,288.5 366.6,289.8 368.1,288.4 367.0,292.5 368.3,290.4 367.6,293.1 368.0,293.1 367.9,295.2 368.7,294.1 367.5,298.7 367.9,299.2 368.5,299.0 367.6,302.4 369.0,300.9 369.1,302.2 368.4,305.7 368.9,305.5 368.1,308.7 369.0,307.3 368.0,311.4 369.3,310.4 368.3,314.2 368.1,315.5 369.3,313.6 369.3,314.4 368.4,317.4 369.8,315.4 368.5,319.4 369.6,317.9 369.4,319.3 368.7,322.0 369.8,320.3 370.1,321.1 369.9,323.3 369.5,326.2 369.8,325.5 369.1,322.5 370.4,324.1 369.0,319.8 370.2,321.4 369.3,317.9 369.1,316.7 369.5,315.8 370.4,316.4 369.6,313.6 370.7,314.9 370.0,311.6 370.5,311.4 370.5,309.9 370.1,307.3 370.6,307.4 370.8,306.7 370.6,304.1 371.7,303.7 371.6,305.1 371.1,308.6 371.4,310.0 372.1,310.5 373.2,310.5 372.9,313.0 373.7,314.0 373.1,310.0 373.9,310.8 373.5,307.9 373.6,305.8 374.9,307.5 374.5,305.3 375.0,305.1 375.4,303.6 374.7,299.6 375.1,299.7 376.0,298.8 376.4,300.6 376.1,303.9 376.9,303.8 376.6,307.5 377.3,306.3 378.2,307.1 378.5,307.8 378.8,308.6 378.3,311.5 379.0,312.4 379.5,313.0 379.3,314.6 380.0,315.2 379.0,318.8 380.1,317.1 379.8,319.8 379.3,322.5 379.9,323.0 379.4,324.9 381.0,322.3 380.0,325.9 380.9,325.0 380.4,327.4 380.6,328.4 380.0,325.1 381.7,326.8 380.3,321.4 380.5,320.2 381.5,321.6 381.3,318.7 382.4,319.3 381.4,316.1 382.0,316.7 382.3,316.4 381.7,313.1 382.5,313.5 381.8,310.6 382.1,310.3 381.8,308.1 382.8,308.1 382.8,306.3 383.7,306.4 383.0,302.3 383.2,301.0 384.3,302.6 383.5,299.2 383.6,297.7 383.4,295.4 384.5,296.7 384.5,295.4 385.2,295.3 384.3,290.6 385.2,290.8 384.7,288.2 385.4,288.0 386.0,288.1 385.2,284.9 385.7,284.2 386.5,284.1 385.6,279.9 386.5,280.2 385.9,277.6 386.1,276.1 387.2,277.4 386.2,273.2 387.9,275.3 387.2,273.2 387.8,273.9 386.8,277.3 387.3,277.7 387.9,277.2 387.1,280.7 388.0,279.6 387.1,283.4 388.2,282.8 387.8,285.2 388.4,285.7 388.9,286.0 387.8,289.4 388.8,288.7 387.9,293.0 389.1,291.7 388.8,293.1 388.8,296.1 390.2,293.9 389.6,299.0 390.5,297.5 390.1,300.3 391.7,298.3 391.3,301.5 392.5,301.2 391.9,304.5 392.3,304.1 391.9,307.4 393.6,305.6 393.3,309.2 394.5,308.2 393.9,310.7 394.8,313.4 396.6,311.2 397.2,313.0 398.6,313.6 398.1,309.4 399.2,311.1 399.2,307.8 400.6,308.2 400.5,306.3 400.0,308.6 401.2,307.4 400.5,310.4 400.4,311.7 400.1,314.2 401.7,311.7 400.7,316.2 401.7,315.8 401.8,317.5 401.6,319.0 401.1,322.2 401.8,321.8 401.1,324.5 402.0,324.3 401.5,326.7 402.2,326.8 401.5,330.2 402.3,330.0 402.2,332.0 402.2,329.9 403.0,329.7 403.2,328.9 402.7,325.9 402.4,323.7 402.6,322.8 402.6,321.8 404.2,324.3 402.9,320.0 404.3,321.8 403.4,317.2 405.0,319.2 404.4,316.5 404.7,317.5 404.5,319.8 405.4,319.7 405.0,322.0 405.8,321.3 404.9,325.0 404.8,326.4 406.4,324.7 406.2,327.7 406.2,329.8 406.0,332.3 406.5,332.6 407.0,333.2 408.0,332.4 407.3,336.8 408.9,334.4 408.4,336.4 408.0,338.7 408.3,338.8 409.5,337.1 408.5,340.8 409.7,340.4 408.9,344.5 410.3,342.9 409.9,345.3 409.4,347.5 410.4,347.2 410.4,348.6 409.7,352.0 410.6,351.0 409.8,354.8 411.3,352.5 410.6,356.0 410.2,358.2 411.0,357.1 410.2,360.0 411.8,357.1 410.6,361.9 412.0,360.3 410.9,364.3 411.3,365.0 411.5,365.2 412.3,364.5 411.6,367.4 412.6,365.9 411.3,370.5 412.9,368.8 412.1,371.7 412.4,372.9 412.9,372.6 412.3,376.3 413.3,376.4 413.3,378.4 414.0,377.8 413.1,381.8 414.0,381.9 413.5,384.7 414.3,384.1 414.8,384.6 413.4,389.9 414.1,389.5 413.9,391.6 415.0,391.1 415.0,392.0 414.5,394.5 414.2,397.0 415.0,396.1 414.9,394.1 415.9,394.5 414.7,390.7 415.3,391.2 416.0,391.0 416.2,389.6 415.5,386.0 416.3,385.8 416.7,385.3 417.0,383.7 415.7,378.7 417.3,381.4 416.6,378.4 417.4,379.0 416.2,374.4 416.4,373.1 417.9,375.3 417.1,371.1 417.0,369.0 417.2,367.6 418.1,367.4 418.6,368.3 418.5,370.2 419.8,368.9 419.1,374.0 419.9,374.0 420.7,374.4 419.5,370.0 419.7,369.4 420.8,369.7 421.2,368.8 420.8,365.4 422.1,366.4 421.3,362.5 422.0,363.0 421.7,360.6 422.1,360.8 423.1,361.8 421.9,357.2 423.1,358.5 422.5,354.9 424.4,357.1 423.9,354.1 424.5,354.9 424.1,358.2 424.4,358.6 425.6,356.9 424.8,360.8 425.9,359.4 425.5,363.2 426.4,363.4 426.1,365.2 426.5,368.4 427.6,367.4 426.9,364.5 428.4,366.9 428.5,365.0 428.6,363.7 428.8,363.1 427.9,360.1 429.1,360.7 428.3,357.4 429.1,357.8 429.1,356.0 428.5,352.9 429.7,354.3 428.6,350.4 429.6,351.7 428.8,348.3 429.0,347.4 429.8,347.5 430.5,349.8 431.5,349.4 431.6,352.9 432.1,351.9 432.0,349.3 433.1,350.6 432.4,347.6 433.5,347.6 433.0,344.5 433.1,343.5 434.3,345.4 433.6,341.3 434.3,342.0 434.3,340.9 435.3,340.7 435.7,345.0 436.5,343.1 437.1,343.3 437.6,343.0 437.3,339.1 438.3,338.6 438.8,337.9 438.7,336.4 438.5,334.2 439.7,336.4 439.4,333.7 439.2,331.3 440.2,332.6 439.0,328.2 440.6,329.9 439.8,326.2 440.9,326.3 440.3,323.7 440.9,323.2 441.1,326.2 442.9,322.5 443.1,325.4 443.8,326.0 443.5,322.5 444.8,323.2 443.6,318.7 445.2,321.0 444.3,317.3 445.4,317.3 445.3,316.5 446.7,315.8 446.8,319.5 447.5,318.7 448.4,319.1 447.6,315.0 448.8,316.3 449.2,315.5 449.0,311.9 448.8,310.0 449.7,310.8 449.7,309.9 449.4,308.0 450.7,308.5 449.8,304.8 451.1,306.3 450.5,303.4 451.4,304.4 451.3,303.3 451.7,303.8 452.6,303.4 452.6,305.6 452.2,308.5 453.5,308.0 453.1,309.9" fill="none" stroke="#525d70" stroke-width="1.15" stroke-linejoin="round"/>
<polyline points="453.7,376.2 453.2,379.9 454.8,377.1 454.0,381.1 455.0,380.4 454.3,383.8 455.7,382.8 454.8,386.6 455.6,385.5 455.3,387.3 456.7,387.3 457.0,385.1 457.4,385.0 456.5,389.0 458.1,386.2 458.4,387.7 458.2,390.3 458.4,392.4 458.8,393.4 457.8,397.6 458.6,396.1 459.5,395.4 459.6,397.1 459.9,398.8 459.1,402.4 460.1,402.8 459.6,400.0 461.3,401.5 460.4,397.3 461.4,398.4 460.9,394.6 462.4,395.9 461.9,393.9 462.5,392.8 462.5,390.7 462.5,389.4 463.0,389.1 463.1,387.0 464.2,388.2 464.1,387.3 464.5,385.2 465.2,385.7 465.4,384.7 465.4,382.6 465.7,381.8 466.8,382.4 466.3,380.6 467.1,379.9 468.3,380.3 468.1,382.9 468.7,383.3 468.2,386.7 469.4,385.3 468.5,389.4 469.7,387.4 468.8,391.7 469.6,391.5 469.2,393.3 469.6,393.9 470.7,393.1 470.8,396.2 470.3,399.2 471.2,399.4 471.3,397.2 472.0,396.9 471.9,395.0 472.5,395.0 472.3,392.9 473.2,393.2 473.0,391.7 472.8,388.0 474.4,390.1 473.8,387.1 474.6,387.8 475.3,387.5 475.2,385.1 475.4,388.2 476.8,384.6 476.7,389.2 477.4,387.3 478.5,387.0 478.6,390.4 479.6,389.5 479.3,386.4 480.8,387.6 480.5,384.7 481.1,384.2 482.2,385.9 481.6,380.8 483.3,382.6 483.0,380.0 483.7,380.0 484.0,380.8 483.3,385.5 484.0,386.3 485.0,385.9 484.3,390.0 485.6,389.3 485.7,392.1 486.0,392.0 485.9,389.3 487.2,389.6 488.4,391.1 488.3,387.1 489.5,387.3 489.4,390.7 491.0,388.7 490.5,393.1 492.0,391.0 491.8,393.8 491.8,395.0 493.0,395.7 492.4,391.3 494.2,393.2 493.2,387.9 495.1,390.1 495.1,387.3 495.2,389.6 497.1,387.0 496.5,391.1 497.2,390.3 498.1,390.1 497.0,395.0 498.6,393.5 497.5,398.5 498.9,397.2 498.4,400.6 499.1,400.6 498.7,403.2 498.9,403.6 499.9,403.6 499.4,405.7 500.0,406.3 499.7,408.8 500.3,409.4 500.8,410.6 499.9,414.9 501.2,413.1 500.8,415.4 501.6,416.0 501.0,419.1 501.6,419.0 502.3,418.7 501.9,415.4 501.6,413.4 502.0,412.4 502.0,411.2 503.4,412.9 503.2,410.6 502.8,407.9 503.5,407.3 503.9,406.5 503.2,403.8 503.8,403.5 504.7,404.3 504.8,402.7 504.7,400.7 504.1,397.9 505.5,399.9 504.7,395.3 505.9,395.9 506.4,394.4 506.1,392.5 507.1,392.4 507.5,394.2 507.7,395.4 507.1,398.8 508.2,398.7 508.3,401.3 509.3,402.4 508.3,398.8 509.8,399.8 509.9,398.1 509.4,394.2 510.4,394.4 510.5,392.5 510.8,392.8 510.3,395.3 511.1,394.7 510.6,397.6 511.3,398.0 510.9,401.0 511.0,402.0 510.9,403.5 512.5,401.2 511.3,405.7 512.5,404.8 511.4,409.3 511.9,410.1 512.6,410.0 512.7,412.4 513.6,413.4 512.9,409.4 513.3,408.5 513.1,406.5 513.7,406.1 513.9,404.5 514.3,404.3 513.5,401.2 514.8,403.2 514.8,401.6 514.8,400.4 514.2,398.0 514.8,398.4 514.0,394.6 514.9,394.7 514.5,391.6 516.1,394.4 515.3,390.8 516.3,391.6 515.7,387.3 516.9,388.6 517.1,385.9 518.2,386.9 518.4,383.5 519.3,383.9 519.5,380.4 520.4,381.4 521.2,382.7 522.0,385.5 522.6,383.6 522.5,382.2 523.0,381.9 523.7,381.3 522.8,377.9 522.8,376.2 522.9,374.7 523.8,375.1 522.9,371.8 523.9,372.1 523.7,370.4 523.8,368.1 524.1,366.8 525.8,368.3 525.5,364.9 526.0,366.0 526.7,367.6 528.1,366.9 528.2,368.2 528.7,367.2 528.0,363.3 529.1,364.7 529.1,363.3 529.5,362.9 528.7,359.6 529.9,360.9 530.1,360.5 529.2,357.0 530.3,358.9 529.9,357.1 531.2,358.0 531.4,356.3 531.5,354.9 531.1,357.3 531.3,358.7 532.3,357.5 532.1,360.1 532.9,359.7 533.1,360.8 532.6,363.5 533.0,363.7 532.6,360.9 534.1,363.9 533.9,360.6 535.2,361.6 534.8,359.3 535.3,360.2 535.0,362.6 535.9,361.9 534.9,366.4 536.0,365.5 535.9,367.6 536.7,367.5 536.8,368.8 536.6,370.4 536.1,368.0 537.7,369.2 538.0,367.3 538.1,366.3 538.4,366.2 538.1,363.7 538.5,362.4 538.1,359.6 538.9,359.5 538.1,355.7 538.7,355.4 538.9,354.7 539.2,354.9 539.1,351.8 540.5,353.1 540.6,351.4 541.6,351.5 541.4,350.5 542.5,350.2 542.9,353.6 543.6,353.8 543.3,350.7 544.9,352.7 544.6,348.1 546.1,350.5 545.9,348.3 546.8,347.3 547.3,348.8 547.0,352.5 548.1,351.5 548.1,352.7 549.3,350.2 550.3,351.6 549.7,355.1 551.2,353.2 550.3,357.0 550.3,358.8 551.4,357.7 551.5,359.3 550.6,363.5 551.4,363.7 552.0,363.3 550.8,367.6 551.1,368.2 551.4,369.3 551.6,370.0 552.3,370.0 551.4,374.4 552.7,373.4 551.6,377.6 551.8,378.9 552.9,377.2 552.5,379.2 552.0,381.6 553.3,379.6 552.1,383.2 553.2,382.8 552.7,384.8 553.1,385.6 552.3,389.0 552.6,390.3 553.7,388.7 552.5,392.6 553.8,391.5 552.9,395.0 554.3,393.6 553.6,396.9 554.6,396.8 554.0,393.2 554.1,391.4 555.3,392.6 554.8,389.9 555.1,390.3 554.8,393.3 555.2,393.5 555.7,393.1 555.9,393.8 555.8,396.4 555.5,398.4 556.9,396.1 555.6,401.3 556.8,401.0 556.6,403.0 556.9,403.5 557.5,402.7 557.2,399.5 558.1,400.6 557.6,398.1 558.2,397.4 557.7,394.1 557.8,392.3 558.7,392.5 558.6,393.7 559.4,393.7 559.9,394.8 558.5,399.6 559.9,397.5 558.9,400.7 560.3,399.5 559.1,404.5 560.3,403.1 559.4,407.2 560.2,405.7 560.4,403.1 560.7,402.4 562.0,402.8 561.7,398.5 562.4,399.1 563.0,399.6 563.1,402.2 564.5,401.7 564.6,403.5 564.9,404.0 564.9,405.7 564.3,408.1 564.5,408.9 565.0,409.5 565.2,410.9 564.4,414.3 565.5,412.9 564.7,416.1 565.5,415.3 564.6,418.9 565.6,418.0 564.5,421.5 565.1,421.9 565.7,421.4 565.0,423.8 565.7,423.9 565.2,427.0 565.9,426.3 565.3,428.7 566.0,428.9 565.0,432.6 565.8,432.3 566.5,433.0 565.4,428.9 566.1,429.4 565.3,425.5 566.7,428.0 565.5,423.8 566.8,425.8 565.8,421.4 565.8,419.5 566.2,419.3 565.9,417.8 566.7,418.0 567.0,417.8 566.8,416.1 567.2,415.3 567.2,413.1 567.0,411.4 566.6,409.4 567.5,410.2 566.6,406.3 566.9,405.7 568.4,405.9 568.4,403.1 570.0,403.3 570.2,401.3 570.9,400.9 570.9,403.8 572.2,401.6 572.4,405.2 572.8,407.5 573.5,405.7 573.9,407.3 574.9,408.9 576.8,408.0 577.4,405.0 578.4,406.3 578.7,402.7 580.1,403.5 580.4,403.8 579.9,406.2 580.7,407.1 581.8,406.6 580.7,410.8 581.3,411.7 582.3,410.7 582.3,412.4 583.8,413.1 584.5,410.2 585.5,408.8 584.9,413.0 586.0,413.2 586.0,416.1 587.0,415.9 586.8,416.8 587.6,417.7 586.8,413.8 586.5,410.8 587.6,412.1 587.1,409.0 588.4,409.7 588.5,408.6 587.6,404.6 588.5,405.0 588.1,402.0 589.0,403.1 588.5,400.4 589.1,400.5 589.0,399.1 589.3,399.9 589.5,400.4 588.7,404.4 588.9,405.1 589.9,403.8 589.4,407.0 589.5,408.7 591.1,407.1 591.1,408.2 590.4,411.8 590.3,414.2 591.2,414.6 592.2,413.2 592.3,416.0 594.2,415.1 594.5,416.8 593.8,420.3 594.5,420.0 594.1,422.1 594.5,422.1 595.6,421.5 595.5,422.9 595.6,424.1 594.7,428.0 595.6,427.7 595.7,428.7 594.8,432.6 595.1,433.7 595.8,434.1 595.3,436.8 596.4,435.4 596.6,437.2 596.0,440.0 596.7,439.4 596.6,441.7 596.1,444.6 596.9,444.5 596.5,446.4 596.7,448.3 596.7,449.6 597.6,448.2 597.3,451.4 597.8,451.0 597.0,455.1 598.4,453.4 598.0,455.0 598.5,453.6 598.1,450.5 599.1,450.8 599.0,448.1 599.8,447.8 599.5,445.8 600.0,445.0 601.1,445.1 600.3,440.5 601.7,441.8 601.4,438.0 603.0,441.2 603.0,438.0 603.2,436.7 603.3,434.6 604.6,435.7 604.4,432.7 605.6,432.8 605.4,429.3 606.0,430.0 605.8,427.4 607.8,430.2 607.3,425.5 607.8,424.4 608.7,425.0 609.8,424.8 610.0,423.4 610.5,422.5 610.5,421.0 609.6,417.7 610.0,417.5 610.9,417.7 610.3,414.4 611.3,415.4 610.6,411.5 611.8,413.0 610.9,409.7 611.7,409.7 611.7,407.7 611.2,404.7 611.1,403.5 612.3,404.2 612.2,401.3 611.7,398.1 612.0,397.6 612.7,397.4 612.1,394.9 612.3,394.6 613.0,394.5 613.3,393.5 612.4,390.7 613.0,391.1 612.0,386.6 613.2,388.2 612.6,385.5 613.3,385.3 612.2,381.0 613.7,383.4 612.5,379.4 612.8,378.0 613.5,378.6 612.7,374.8 613.3,374.8 612.5,377.5 613.6,376.7 613.2,379.6 613.8,379.7 613.7,381.5 613.5,383.5 613.3,386.1 613.3,387.7 614.6,385.4 613.8,389.2 615.1,387.8 614.5,391.0 615.4,391.2 614.9,388.8 616.4,390.3 616.9,388.6 616.0,384.3 617.4,385.2 617.3,383.5 617.6,381.9 618.9,382.7 618.5,378.4 619.2,377.7 619.1,379.8 620.6,378.5 619.7,383.0 621.0,381.9 621.4,382.0 620.4,386.0 621.2,385.4 621.4,384.3 622.4,385.6 622.0,381.8 623.1,381.5 623.7,380.8 623.4,377.9 624.6,379.4 624.0,376.3 624.1,374.4 624.2,373.7 625.0,373.8 625.0,376.2 625.7,376.1 625.1,378.5 626.6,377.3 626.0,381.4 627.0,380.8 626.1,384.0 627.3,382.6 626.4,386.0 626.9,385.4 626.5,382.0 628.2,384.6 627.4,380.2 627.8,378.9 627.9,377.3 628.8,377.7 628.5,374.9 629.8,376.5 629.5,373.2 631.2,375.8 630.8,373.8 630.5,371.3 631.5,372.7 631.6,370.2 632.3,370.2 632.2,367.0 632.7,368.1 632.7,370.3 633.5,370.8 633.0,373.8 634.2,373.0 633.7,376.5 634.7,375.7 634.7,376.9 634.2,379.8 634.6,379.6 635.4,379.4 634.6,375.3 636.0,376.9 635.6,373.6 636.0,371.9 636.5,371.9 636.9,374.5 638.2,372.2 638.1,376.6 638.5,375.8 638.9,373.9 639.6,374.2 640.2,371.7 640.5,370.5 641.3,370.0 642.2,371.0 642.3,366.8 644.2,369.1 644.2,368.1 645.4,368.7 646.1,369.8 647.1,369.1 647.1,371.9 648.1,372.1 648.0,368.4 648.7,367.7 649.9,368.7 649.6,365.6 650.0,366.2 650.6,368.2 651.1,369.0 651.9,368.1 652.4,367.0 651.9,364.5 653.0,365.0 652.8,363.0 652.3,359.4 653.7,361.0 653.8,359.4 653.1,356.7 653.5,356.1 654.2,356.0 653.8,352.7 654.9,352.7 654.3,348.0 655.7,348.8 655.9,345.8 656.0,343.7 656.7,345.0 657.6,345.6 658.2,344.2 657.8,340.1 658.3,339.2 659.4,340.3 659.6,339.2 660.3,339.4 660.7,340.2 660.1,344.3 661.1,344.2 661.2,345.5 660.9,348.2 661.5,348.8 661.6,346.0 663.0,347.3 663.5,345.0 664.0,345.7 663.7,348.2 664.7,348.2 663.8,351.7 665.2,350.2 663.8,354.7 665.4,353.2 665.6,354.4 664.7,359.3 665.4,358.5 665.8,358.2 665.3,354.8 666.6,355.4 665.9,351.8 667.0,352.3 667.7,352.4 667.3,348.8 668.4,347.7 668.6,349.0 668.2,353.9 669.2,352.7 669.9,352.9 669.0,349.5 669.8,350.1 669.5,347.8 669.4,345.4 669.8,344.1 671.2,345.4 670.5,341.8 671.2,341.2 670.7,338.5 672.2,341.2 672.3,339.4 671.6,336.3 673.0,337.5 672.4,333.5 673.1,333.5 672.9,336.4 673.5,337.4 674.6,336.9 673.8,341.2 675.0,341.2 674.6,339.2 675.7,339.9 675.2,337.3 676.1,337.9 676.4,336.9 675.5,332.8 676.9,333.9 675.9,328.9 676.2,328.6 676.9,329.6 676.4,332.9 677.7,331.2 677.2,333.9 677.4,335.6 677.3,338.1 678.7,336.2 678.2,340.1 678.9,339.8 679.4,340.9 678.8,343.1 679.1,342.0 678.7,339.0 679.7,340.1 678.7,336.7 679.2,336.6 679.3,335.6 678.7,332.5 679.8,334.5 678.7,331.2 679.9,332.5 678.7,328.5 679.6,328.9 679.0,326.5 679.3,325.3 679.1,323.7 680.4,325.7 679.0,321.4 679.9,322.2 679.3,318.8 680.2,319.9 679.7,317.1 679.7,314.9 680.1,314.9 679.3,311.6 680.5,313.4 679.7,310.8 679.4,309.1 679.7,307.8 680.5,308.0 679.9,304.6 680.4,304.6 680.7,305.8 679.7,309.4 681.1,307.2 680.3,310.4 680.2,312.4 680.2,314.0 681.2,313.5 680.3,316.2 680.1,318.3 681.4,316.3 680.2,321.0 681.5,319.7 680.8,323.8 680.6,325.8 681.8,324.3 681.0,327.5 681.8,327.9 680.9,332.1 682.1,330.8 681.2,334.9 682.7,333.6 682.1,337.3 683.3,336.7 682.7,339.2 683.6,339.0 682.7,344.1 684.4,341.9 683.1,346.6 684.4,345.5 683.9,347.8 685.2,346.8 684.6,348.8 684.5,352.0 686.1,350.6 685.8,354.4 686.5,352.7 686.7,353.7 686.3,356.2 687.2,355.5 686.5,358.7 686.6,360.4 686.2,362.5 687.7,360.9 686.5,365.5 687.8,363.6 687.9,364.8 686.7,369.1 688.0,367.7 686.7,372.2 688.1,369.6 687.5,371.9 687.0,375.2 688.0,373.7 687.6,376.8 688.6,376.2 687.4,380.8 688.9,378.1 687.8,382.9 689.1,380.9 688.4,384.4 689.2,384.4 688.8,387.3 689.6,387.0 688.3,391.4 689.6,390.1 688.8,393.6 688.9,395.3 689.9,394.4 688.5,398.5 689.1,398.4 690.1,397.0 689.3,401.0 688.9,402.8 689.3,403.4 690.4,401.8 689.4,405.8 690.6,405.1 690.7,406.7 690.0,410.0 690.8,410.9 690.0,407.0 691.1,408.3 689.8,404.0 691.0,405.3 690.4,402.3 691.1,402.0 691.0,400.0 691.4,401.0 690.6,403.9 690.6,405.4 691.5,404.4 691.8,405.6 690.8,409.7 691.3,409.7 691.0,412.5 690.9,413.8 691.6,413.2 691.9,413.6 690.6,418.0 691.5,417.2 690.9,419.9 691.1,420.4 691.9,419.8 691.2,422.7 692.0,421.6 691.0,425.8 691.6,425.9 692.0,426.3 691.2,429.2 692.2,428.1 691.1,432.2 692.1,430.6 690.9,434.4 692.0,433.5 691.8,435.4 691.1,438.0 692.2,436.8 691.0,440.8 692.4,439.6 691.4,443.6 691.5,444.7 692.3,444.3 690.9,448.4 692.3,446.6 691.3,449.7 692.3,448.9 691.1,452.6 691.8,453.0 691.2,450.9 692.1,452.0 692.2,451.0 691.2,447.5 692.1,448.3 691.2,445.4 691.4,444.6 692.3,444.9 691.7,441.9 691.9,441.2 692.3,440.3 691.4,436.8 692.3,437.3 691.6,433.8 692.7,435.1 692.5,433.5 691.5,429.5 692.3,430.0" fill="none" stroke="#525d70" stroke-width="1.15" stroke-linejoin="round"/>
<g stroke="#2088cc" stroke-width="4" fill="none" stroke-dasharray="14.6 6.6">
<line x1="77.9" y1="435.8" x2="366" y2="435.8"/>
<line x1="364" y1="436" x2="364" y2="259"/>
<line x1="364" y1="259" x2="364" y2="290.2" stroke-dasharray="none"/>
<line x1="364" y1="303" x2="364" y2="316" stroke-dasharray="none"/>
<line x1="610.8" y1="424.5" x2="610.8" y2="244.5" stroke-width="3.8"/>
</g>
<line x1="366.6" y1="260" x2="394.6" y2="331.5" stroke="#6b8e23" stroke-width="6.2" stroke-linecap="round"/>
<polyline points="393.9,332.9 402.0,302.0" fill="none" stroke="#6b8e23" stroke-width="7.8" stroke-linejoin="round" stroke-linecap="round"/>
<polyline points="402.0,302.0 566.6,424.8 574.0,398.0 595.2,458.5" fill="none" stroke="#6b8e23" stroke-width="9.8" stroke-linejoin="round" stroke-linecap="round"/>
<polyline points="595.2,458.5 611.3,423.8" fill="none" stroke="#6b8e23" stroke-width="7" stroke-linecap="butt"/>
<polyline points="365.0,259.0 393.9,332.9 402.0,302.0 566.6,424.8 574.0,398.0 595.2,458.5 611.3,423.8" fill="none" stroke="#000" stroke-width="1.8" stroke-linejoin="round"/>
<line x1="78" y1="436.2" x2="361.5" y2="256.8" stroke="#dd3a20" stroke-width="9.2" stroke-linecap="butt"/>
<circle cx="78" cy="436.2" r="4.6" fill="#dd3a20"/>
<line x1="78" y1="436.2" x2="360" y2="257.7" stroke="#000" stroke-width="1.85"/>
<line x1="503" y1="377" x2="601" y2="419.6" stroke="#2a6fb0" stroke-width="1.4"/>
<polygon points="606,422 595.5,421.6 598.6,414.6" fill="#2088cc"/>
<circle cx="611.9" cy="424.4" r="9.1" fill="#2088cc"/>
<line x1="604" y1="439.5" x2="611.3" y2="424" stroke="#6b8e23" stroke-width="7" opacity="0.55"/>
<line x1="604" y1="439.5" x2="611.3" y2="424" stroke="#000" stroke-width="1.8"/>
<line x1="610.8" y1="424" x2="610.8" y2="410" stroke="#2088cc" stroke-width="4"/>
<circle cx="614.6" cy="424" r="5.2" fill="#0a0a0a"/>
<polyline points="613.5,423.5 680.4,315.8 692.3,436.3" fill="none" stroke="#b9c6ee" stroke-width="5.5" stroke-linejoin="round" opacity="0.85"/>
<polyline points="613.5,423.5 680.4,315.8 692.3,436.3" fill="none" stroke="#05050f" stroke-width="1.8" stroke-linejoin="round"/>
<circle cx="680.4" cy="315.8" r="6.3" fill="#000"/>
<circle cx="692.3" cy="436.3" r="6.3" fill="#000"/>
<circle cx="762.8" cy="244.6" r="9.2" fill="#2088cc"/>
<circle cx="762.6" cy="244.2" r="4.8" fill="#6b8e23"/>
<line x1="692.3" y1="436.3" x2="762.5" y2="244.5" stroke="#3a9ad9" stroke-opacity="0.8" stroke-width="6.4" stroke-linecap="butt"/>
<line x1="692.3" y1="436.3" x2="762.5" y2="244.5" stroke="#0a1a2a" stroke-width="1.2" stroke-dasharray="3.7 1.9"/>
<line x1="509" y1="244.5" x2="743" y2="244.5" stroke="#2a7ab8" stroke-width="2.7"/>
<polygon points="752.5,244.5 741,241.3 741,247.7" fill="#2088cc" stroke="#2a7ab8" stroke-width="0.8"/>
<circle cx="78" cy="460" r="10.8" fill="none" stroke="#000" stroke-width="1.6"/>
<text x="78" y="464.2" font-family="Liberation Sans, Arial, sans-serif" font-size="12px" fill="#2b8fd0" text-anchor="middle">1</text>
<circle cx="363.8" cy="232" r="10.8" fill="none" stroke="#000" stroke-width="1.6"/>
<text x="363.8" y="236.2" font-family="Liberation Sans, Arial, sans-serif" font-size="12px" fill="#2b8fd0" text-anchor="middle">2</text>
<circle cx="393.8" cy="354.5" r="10.8" fill="none" stroke="#000" stroke-width="1.6"/>
<text x="393.8" y="358.7" font-family="Liberation Sans, Arial, sans-serif" font-size="12px" fill="#2b8fd0" text-anchor="middle">3</text>
<circle cx="403" cy="278" r="10.8" fill="none" stroke="#000" stroke-width="1.6"/>
<text x="403" y="282.2" font-family="Liberation Sans, Arial, sans-serif" font-size="12px" fill="#2b8fd0" text-anchor="middle">4</text>
<circle cx="567.4" cy="449.4" r="10.8" fill="none" stroke="#000" stroke-width="1.6"/>
<text x="567.4" y="453.59999999999997" font-family="Liberation Sans, Arial, sans-serif" font-size="12px" fill="#2b8fd0" text-anchor="middle">5</text>
<circle cx="574" cy="373.7" r="10.8" fill="none" stroke="#000" stroke-width="1.6"/>
<text x="574" y="377.9" font-family="Liberation Sans, Arial, sans-serif" font-size="12px" fill="#2b8fd0" text-anchor="middle">6</text>
<circle cx="595.7" cy="482.4" r="10.8" fill="none" stroke="#000" stroke-width="1.6"/>
<text x="595.7" y="486.59999999999997" font-family="Liberation Sans, Arial, sans-serif" font-size="12px" fill="#2b8fd0" text-anchor="middle">7</text>
<rect x="364.5" y="233.7" width="51" height="22" rx="3.5" fill="#6b8e23" stroke="#26324a" stroke-width="1"/>
<text x="390" y="249.8" font-family="Liberation Sans, Arial, sans-serif" font-size="14px" fill="#fff" text-anchor="middle">27.03</text>
<rect x="443.3" y="233.3" width="57.4" height="22.4" rx="3.5" fill="#2088cc" stroke="#26326a" stroke-width="1"/>
<text x="472.2" y="249.6" font-family="Liberation Sans, Arial, sans-serif" font-size="14px" fill="#fff" text-anchor="middle">Target</text>
<text x="377.5" y="412.1" font-family="Liberation Sans, Arial, sans-serif" font-size="21px" font-weight="bold" font-style="italic" fill="#2088cc" text-anchor="middle">H</text>
<text x="601.7" y="401.5" font-family="Liberation Sans, Arial, sans-serif" font-size="21px" font-weight="bold" font-style="italic" fill="#2088cc" text-anchor="middle">H</text>
<circle cx="492.1" cy="372.3" r="15.3" fill="#2088cc" stroke="#23307a" stroke-width="1"/>
<text x="492.1" y="376.2" font-family="Liberation Sans, Noto Sans CJK SC, sans-serif" font-size="11px" fill="#fff" text-anchor="middle">买1</text>
</svg>
</body></html>
